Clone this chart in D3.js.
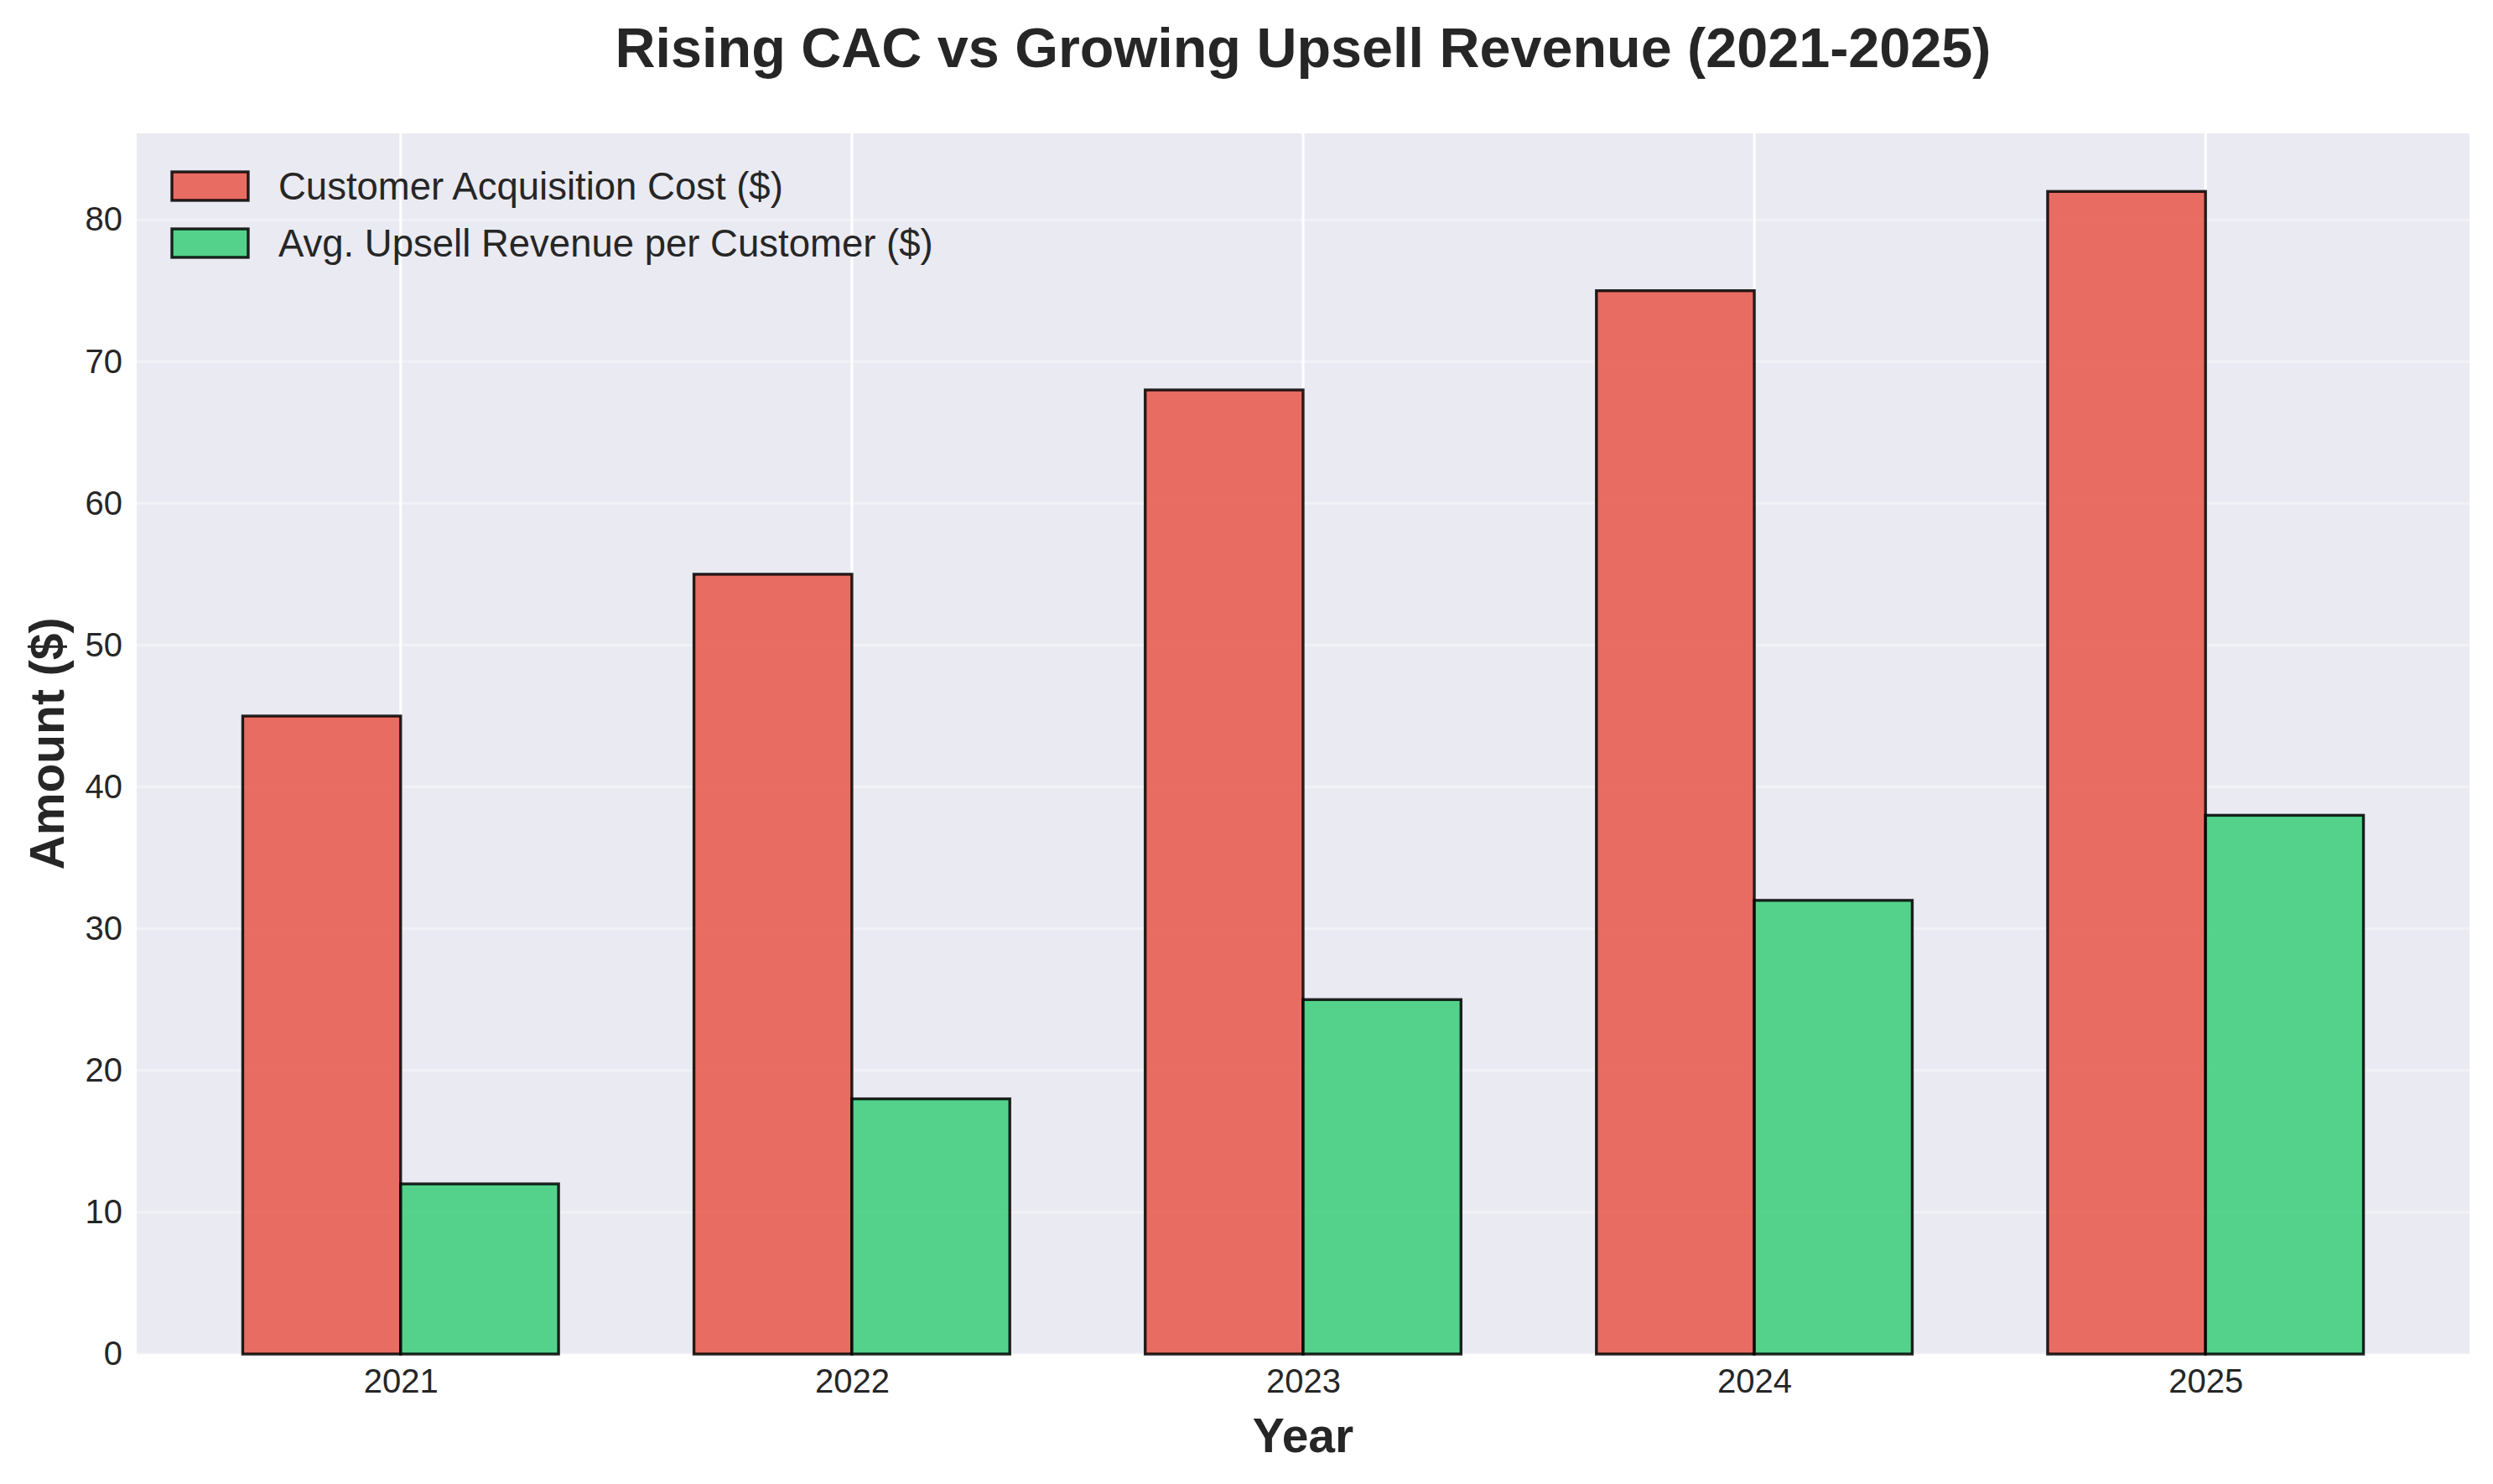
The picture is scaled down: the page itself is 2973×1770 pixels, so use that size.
<!DOCTYPE html>
<html><head><meta charset="utf-8">
<script src="https://cdn.jsdelivr.net/npm/d3@7"></script>
<style>html,body{margin:0;padding:0;background:#fff;} text{font-family:"Liberation Sans",Arial,sans-serif;fill:#262626;}</style>
</head><body>
<svg id="chart" width="2973" height="1770"></svg>
<script>
const years = ["2021","2022","2023","2024","2025"];
const cac = [45,55,68,75,82];
const upsell = [12,18,25,32,38];
const seriesNames = ["Customer Acquisition Cost ($)","Avg. Upsell Revenue per Customer ($)"];
const seriesColors = ["#E74C3C","#2ECC71"];
const yTicks = [0,10,20,30,40,50,60,70,80];

const W = 2973, H = 1770;
const m = {left:163, right:2945, top:159, bottom:1615};
const svg = d3.select("#chart");

const barW = 0.35;
const x = d3.scaleLinear().domain([-0.585, 4.585]).range([m.left, m.right]);
const y = d3.scaleLinear().domain([0, 86.1]).range([m.bottom, m.top]);

svg.append("rect").attr("x",m.left).attr("y",m.top).attr("width",m.right-m.left).attr("height",m.bottom-m.top).attr("fill","#EAEAF2");

// grid
svg.append("g").selectAll("line").data(yTicks).join("line")
  .attr("x1",m.left).attr("x2",m.right).attr("y1",d=>y(d)).attr("y2",d=>y(d))
  .attr("stroke","#fff").attr("stroke-opacity",0.35).attr("stroke-width",3);
svg.append("g").selectAll("line").data(years).join("line")
  .attr("x1",(d,i)=>x(i)).attr("x2",(d,i)=>x(i)).attr("y1",m.top).attr("y2",m.bottom)
  .attr("stroke","#fff").attr("stroke-width",3);

// bars
const series = [cac, upsell];
series.forEach((vals, s) => {
  svg.append("g").selectAll("rect").data(vals).join("rect")
    .attr("x",(d,i)=> x(i + (s===0 ? -barW : 0)))
    .attr("width", x(barW)-x(0))
    .attr("y", d=>y(d))
    .attr("height", d=>y(0)-y(d))
    .attr("fill", seriesColors[s]).attr("fill-opacity",0.8)
    .attr("stroke","#000").attr("stroke-opacity",0.85).attr("stroke-width",3.4);
});

// axes
const yAxis = d3.axisLeft(y).tickValues(yTicks).tickSize(0).tickPadding(17);
const gy = svg.append("g").attr("transform",`translate(${m.left},0)`).call(yAxis);
gy.select(".domain").remove();
gy.selectAll("text").attr("font-size",40).style("fill","#262626");

const xAxis = d3.axisBottom(x).tickValues(d3.range(years.length)).tickFormat(i=>years[i]).tickSize(0).tickPadding(18);
const gx = svg.append("g").attr("transform",`translate(0,${m.bottom})`).call(xAxis);
gx.select(".domain").remove();
gx.selectAll("text").attr("font-size",40).style("fill","#262626");

// labels
svg.append("text").attr("x",(m.left+m.right)/2).attr("y",57).attr("text-anchor","middle").attr("dominant-baseline","central")
  .attr("font-size",66.5).attr("font-weight","bold").text("Rising CAC vs Growing Upsell Revenue (2021-2025)");
svg.append("text").attr("x",(m.left+m.right)/2).attr("y",1712).attr("text-anchor","middle").attr("dominant-baseline","central")
  .attr("font-size",57).attr("font-weight","bold").text("Year");
svg.append("text").attr("transform",`translate(56,${(m.top+m.bottom)/2}) rotate(-90)`).attr("text-anchor","middle").attr("dominant-baseline","central")
  .attr("font-size",57).attr("font-weight","bold").text("Amount ($)");

// legend
const lg = svg.append("g");
seriesNames.forEach((n, i) => {
  const cy = 222 + i*68;
  lg.append("rect").attr("x",205).attr("y",cy-17).attr("width",91).attr("height",34)
    .attr("fill",seriesColors[i]).attr("fill-opacity",0.8).attr("stroke","#000").attr("stroke-opacity",0.85).attr("stroke-width",3.4);
  lg.append("text").attr("x",332).attr("y",cy).attr("dominant-baseline","central").attr("font-size",45.5).text(n);
});
</script>
</body></html>
